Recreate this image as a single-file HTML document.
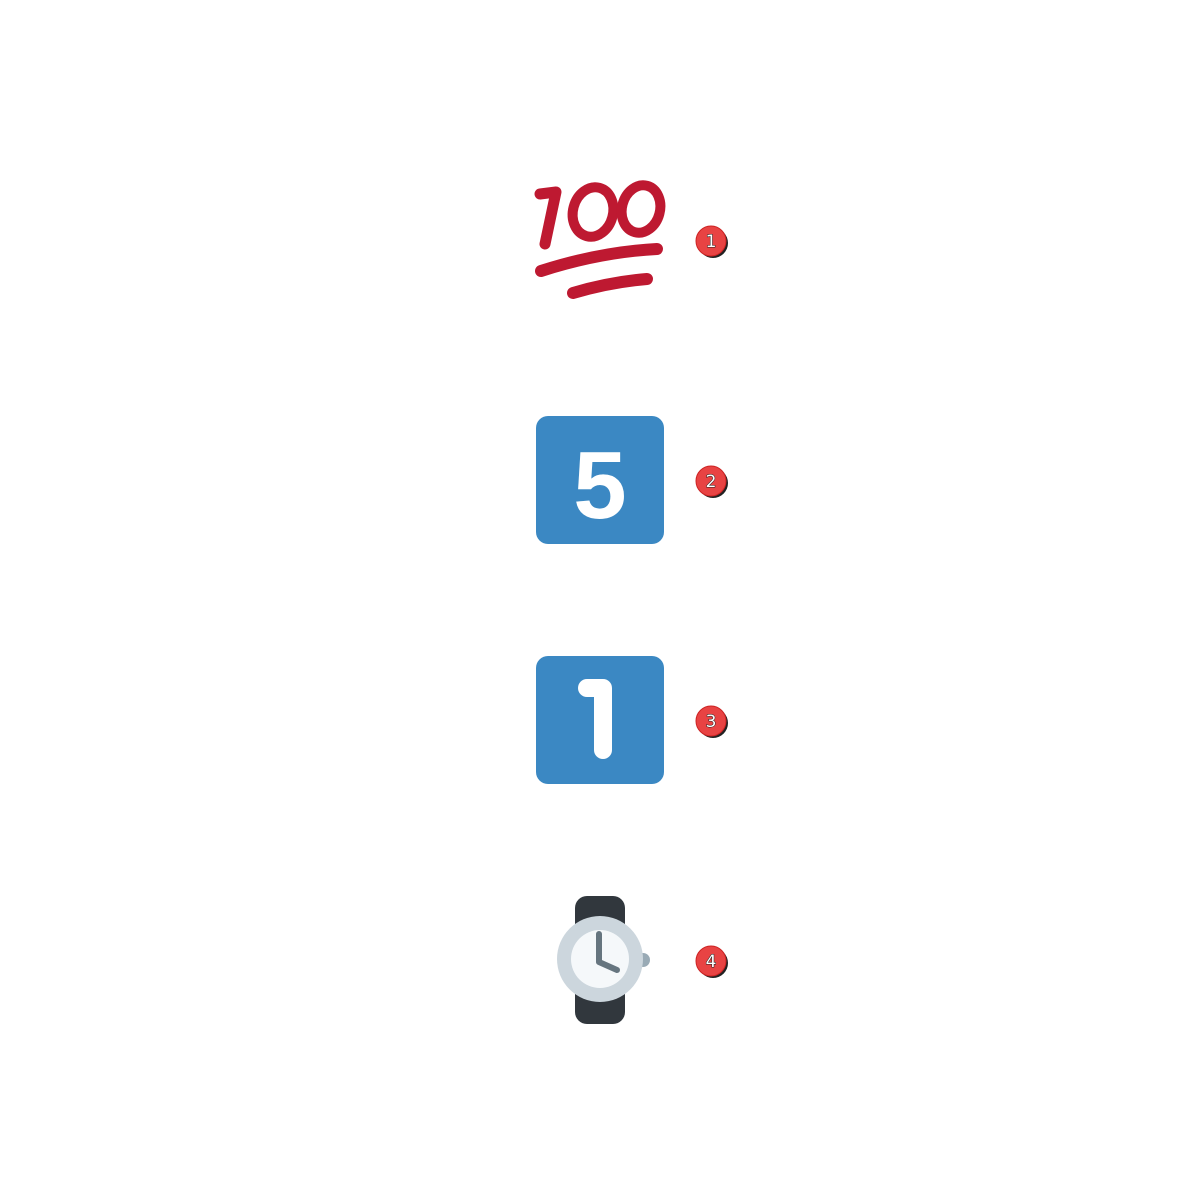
<!DOCTYPE html>
<html><head><meta charset="utf-8"><style>
html,body{margin:0;padding:0;background:#fff;}
svg{display:block;}
.bt{font-family:"DejaVu Sans","Liberation Sans",sans-serif;font-size:17px;fill:#fff;stroke:#222;stroke-width:1;paint-order:stroke;text-anchor:middle;}
</style></head><body>
<svg width="1200" height="1200" viewBox="0 0 1200 1200">
<g fill="none" stroke="#be1931" stroke-linecap="round">
  <path d="M540 194 L556 192 L545 244" stroke-width="11" stroke-linejoin="round"/>
  <ellipse cx="593" cy="212" rx="20" ry="25" transform="rotate(15 593 212)" stroke-width="10"/>
  <ellipse cx="641" cy="209" rx="19" ry="24" transform="rotate(15 641 209)" stroke-width="10"/>
  <path d="M541 271 Q600 252 657 249" stroke-width="12"/>
  <path d="M573 293 Q610 282 647 279" stroke-width="12"/>
</g>
<g>
  <rect x="536" y="416" width="128" height="128" rx="12" fill="#3b88c3"/>
  <text x="600" y="518" font-family="Liberation Sans, sans-serif" font-weight="bold" font-size="96" fill="#fff" text-anchor="middle">5</text>
</g>
<g>
  <rect x="536" y="656" width="128" height="128" rx="12" fill="#3b88c3"/>
  <path d="M587 688 L603 688 L603 750" stroke="#fff" stroke-width="18" stroke-linecap="round" stroke-linejoin="round" fill="none"/>
</g>
<g>
  <rect x="575" y="896" width="50" height="128" rx="12" fill="#31373d"/>
  <circle cx="643" cy="960" r="7" fill="#99aab5"/>
  <circle cx="600" cy="959" r="43" fill="#ccd6dd"/>
  <circle cx="600" cy="959" r="29" fill="#f5f8fa"/>
  <path d="M599 934 L599 962 L617 970" stroke="#66757f" stroke-width="6" stroke-linecap="round" stroke-linejoin="round" fill="none"/>
</g>
<g>
  <circle cx="713" cy="243" r="15" fill="#222"/><circle cx="711" cy="241" r="15" fill="#e84343" stroke="#c22" stroke-width="1"/>
  <text class="bt" x="711" y="247">1</text>
</g>
<g>
  <circle cx="713" cy="483" r="15" fill="#222"/><circle cx="711" cy="481" r="15" fill="#e84343" stroke="#c22" stroke-width="1"/>
  <text class="bt" x="711" y="487">2</text>
</g>
<g>
  <circle cx="713" cy="723" r="15" fill="#222"/><circle cx="711" cy="721" r="15" fill="#e84343" stroke="#c22" stroke-width="1"/>
  <text class="bt" x="711" y="727">3</text>
</g>
<g>
  <circle cx="713" cy="963" r="15" fill="#222"/><circle cx="711" cy="961" r="15" fill="#e84343" stroke="#c22" stroke-width="1"/>
  <text class="bt" x="711" y="967">4</text>
</g>
</svg>
</body></html>
